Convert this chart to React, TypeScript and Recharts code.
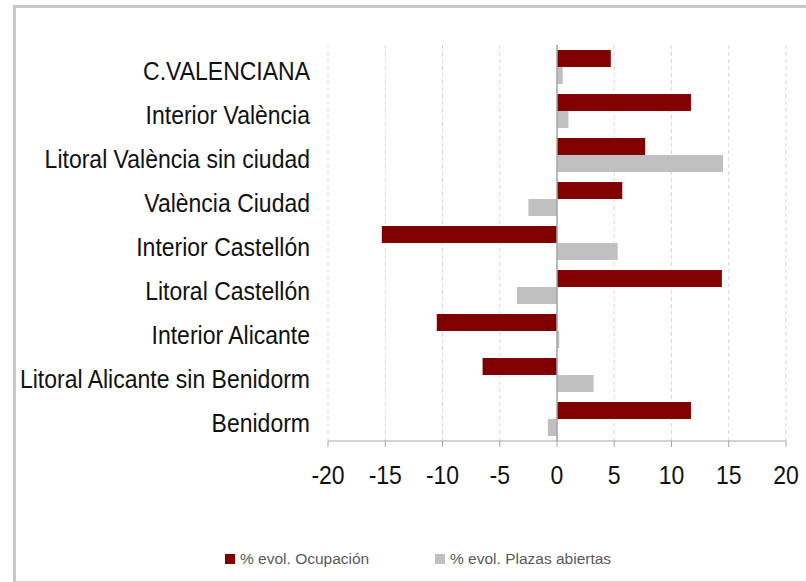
import { BarChart, Bar, XAxis, YAxis, CartesianGrid, ReferenceLine, Legend } from 'recharts';

const zonas = [
  'C.VALENCIANA',
  'Interior València',
  'Litoral València sin ciudad',
  'València Ciudad',
  'Interior Castellón',
  'Litoral Castellón',
  'Interior Alicante',
  'Litoral Alicante sin Benidorm',
  'Benidorm',
];

const ocupacion = [4.7, 11.7, 7.7, 5.7, -15.3, 14.4, -10.5, -6.5, 11.7];
const plazas = [0.5, 1.0, 14.5, -2.5, 5.3, -3.5, 0.2, 3.2, -0.8];

const xTicks = [-20, -15, -10, -5, 0, 5, 10, 15, 20];

const RED = '#800000';
const GRAY = '#c0c0c0';

const data = zonas.map((name, i) => ({
  name,
  ocupacion: ocupacion[i],
  plazas: plazas[i],
}));

const FONT = '"Liberation Sans", Arial, sans-serif';

const CategoryTick = (props: any) => {
  const { x, y, payload } = props;
  return (
    <g transform={`translate(${x} ${y + 12.5}) scale(1 1.12)`}>
      <text x={0} y={0} textAnchor="end" fill="#111" fontSize={23} fontFamily={FONT}>
        {payload.value}
      </text>
    </g>
  );
};

const ValueTick = (props: any) => {
  const { x, y, payload } = props;
  return (
    <g transform={`translate(${x} ${y + 37}) scale(1 1.13)`}>
      <text x={0} y={0} textAnchor="middle" fill="#111" fontSize={23} fontFamily={FONT}>
        {payload.value}
      </text>
    </g>
  );
};

const LegendContent = () => (
  <div
    style={{
      display: 'flex',
      alignItems: 'center',
      height: 20,
      paddingLeft: 225,
      fontFamily: FONT,
      fontSize: 15.5,
      color: '#595959',
    }}
  >
    <span style={{ width: 10, height: 10, background: RED, marginRight: 5 }} />
    <span style={{ width: 132, whiteSpace: 'nowrap' }}>% evol. Ocupación</span>
    <span style={{ width: 10, height: 10, background: GRAY, marginLeft: 63, marginRight: 5 }} />
    <span style={{ whiteSpace: 'nowrap' }}>% evol. Plazas abiertas</span>
  </div>
);

export default function App() {
  return (
    <div style={{ position: 'absolute', left: 0, top: 0, width: 806, height: 582, background: '#fff', overflow: 'hidden' }}>
      <div
        style={{
          position: 'absolute',
          left: 13,
          top: 5,
          width: 820,
          height: 573,
          borderLeft: '3px solid #c8c8c8',
          borderTop: '3px solid #c8c8c8',
          borderBottom: '2px solid #d9d9d9',
        }}
      />
      <div style={{ position: 'absolute', left: 0, top: 0 }}>
        <BarChart
          width={806}
          height={582}
          data={data}
          layout="vertical"
          margin={{ top: 45, right: 20, left: 0, bottom: 61 }}
          barSize={17}
          barGap={0}
        >
          <CartesianGrid horizontal={false} stroke="#d9d9d9" strokeDasharray="4 3" />
          <XAxis
            type="number"
            domain={[-20, 20]}
            ticks={xTicks}
            interval={0}
            height={60}
            stroke="#a6a6a6"
            tickSize={6}
            tickMargin={0}
            tick={<ValueTick />}
          />
          <YAxis
            type="category"
            dataKey="name"
            width={328}
            axisLine={false}
            tickLine={false}
            tickSize={0}
            tickMargin={18}
            interval={0}
            tick={<CategoryTick />}
          />
          <ReferenceLine x={0} stroke="#a6a6a6" strokeWidth={1.5} />
          <Bar dataKey="ocupacion" name="% evol. Ocupación" fill={RED} isAnimationActive={false} />
          <Bar dataKey="plazas" name="% evol. Plazas abiertas" fill={GRAY} isAnimationActive={false} />
          <Legend verticalAlign="bottom" content={<LegendContent />} wrapperStyle={{ bottom: 13, left: 0, width: 806 }} />
        </BarChart>
      </div>
    </div>
  );
}
